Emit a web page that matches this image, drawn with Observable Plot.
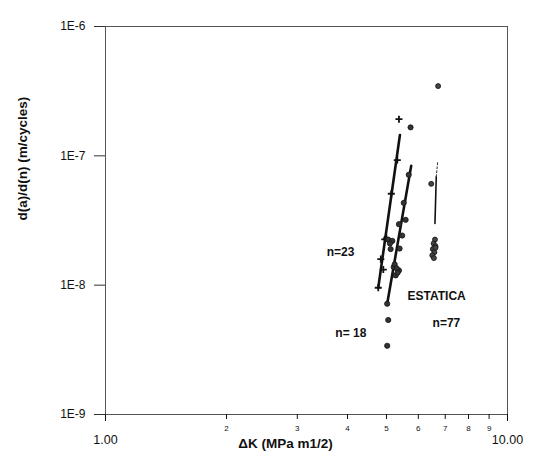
<!DOCTYPE html>
<html>
<head>
<meta charset="utf-8">
<script src="https://cdn.jsdelivr.net/npm/d3@7"></script>
<script src="https://cdn.jsdelivr.net/npm/@observablehq/plot@0.6"></script>
<style>
  body { margin: 0; background: #fff; }
  #chart svg { display: block; }
</style>
</head>
<body>
<div id="chart"></div>
<script>
// Series A (n=23, plus markers)
const aX = [5.37, 5.32, 5.14, 4.95, 4.84, 4.91, 4.77, 5.00];
const aY = [1.92e-7, 9.27e-8, 5.09e-8, 2.26e-8, 1.59e-8, 1.32e-8, 9.55e-9, 2.3e-8];
// Series B (n=18, circle markers)
const bX = [5.74, 5.68, 5.52, 5.58, 5.37, 5.47, 5.39, 5.21, 5.37, 5.27, 5.02, 5.12, 5.05, 5.02, 5.05, 5.17, 5.10, 5.24, 5.30, 5.33];
const bY = [1.66e-7, 7.14e-8, 4.33e-8, 3.20e-8, 2.96e-8, 2.42e-8, 1.92e-8, 1.38e-8, 1.30e-8, 1.19e-8, 7.18e-9, 1.90e-8, 5.38e-9, 3.40e-9, 2.25e-8, 2.20e-8, 2.10e-8, 1.45e-8, 1.35e-8, 1.25e-8];
// Series C (ESTATICA, n=77)
const cX = [6.72, 6.46, 6.60, 6.55, 6.62, 6.52, 6.58, 6.50, 6.56, 6.62];
const cY = [3.46e-7, 6.07e-8, 2.25e-8, 2.10e-8, 2.00e-8, 1.90e-8, 1.80e-8, 1.70e-8, 1.62e-8, 1.95e-8];
// Fitted lines (end points)
const fitAX = [4.77, 5.40], fitAY = [9.55e-9, 1.45e-7];
const fitBX = [5.02, 5.76], fitBY = [7.18e-9, 8.36e-8];
const fitCX = [6.60, 6.65], fitCY = [3.0e-8, 6.9e-8];
const fitCdX = [6.65, 6.70], fitCdY = [6.9e-8, 8.85e-8];
// Annotations
const labels = ["n=23", "ESTATICA", "n=77", "n= 18"];
const labelX = [3.55, 5.64, 6.51, 3.73];
const labelY = [1.81e-8, 8.28e-9, 5.12e-9, 4.23e-9];
// Ticks
const yTicks = [1e-9, 1e-8, 1e-7, 1e-6];
const yTickLabels = ["1E-9", "1E-8", "1E-7", "1E-6"];
const xMajor = [1, 10];
const xMajorLabels = ["1.00", "10.00"];
const xMinor = [2, 3, 4, 5, 6, 7, 8, 9];

const pts = (xs, ys) => xs.map((x, i) => ({x, y: ys[i]}));
const lab = labels.map((t, i) => ({t, x: labelX[i], y: labelY[i]}));

const plot = Plot.plot({
  width: 535,
  height: 460,
  marginLeft: 105,
  marginRight: 28,
  marginTop: 26,
  marginBottom: 46,
  style: {fontFamily: "Liberation Sans, Arial, sans-serif", background: "#fff", color: "#111"},
  x: {type: "log", domain: [1, 10]},
  y: {type: "log", domain: [1e-9, 1e-6]},
  marks: [
    Plot.frame({stroke: "#555", strokeWidth: 1}),
    Plot.axisY({ticks: yTicks, tickFormat: (d) => yTickLabels[yTicks.indexOf(d)], tickSize: 11, tickPadding: 9, fontSize: 12, label: null, stroke: "#333"}),
    Plot.axisX({ticks: xMajor, tickFormat: (d) => xMajorLabels[xMajor.indexOf(d)], tickSize: 7, tickPadding: 14, fontSize: 12.5, label: null}),
    Plot.axisX({ticks: xMinor, tickFormat: (d) => String(d), tickSize: 5, tickPadding: 6, fontSize: 8, label: null}),
    Plot.text(["d(a)/d(n) (m/cycles)"], {frameAnchor: "left", rotate: -90, dx: -83, fontSize: 13.5, fontWeight: "bold", fill: "#111"}),
    Plot.text(["\u0394K (MPa m1/2)"], {frameAnchor: "bottom", dx: -21, dy: 33, fontSize: 13.5, fontWeight: "bold", fill: "#111"}),
    Plot.line(pts(fitAX, fitAY), {x: "x", y: "y", stroke: "#111", strokeWidth: 2.6}),
    Plot.line(pts(fitBX, fitBY), {x: "x", y: "y", stroke: "#111", strokeWidth: 2.6}),
    Plot.line(pts(fitCX, fitCY), {x: "x", y: "y", stroke: "#111", strokeWidth: 1.6}),
    Plot.line(pts(fitCdX, fitCdY), {x: "x", y: "y", stroke: "#333", strokeWidth: 1, strokeDasharray: "2,2"}),
    Plot.dot(pts(aX, aY), {x: "x", y: "y", symbol: "plus", r: 2.4, stroke: "#111", strokeWidth: 1.8}),
    Plot.dot(pts(bX, bY), {x: "x", y: "y", r: 2.6, fill: "#333", stroke: "#111", strokeWidth: 0.8}),
    Plot.dot(pts(cX, cY), {x: "x", y: "y", r: 2.5, fill: "#444", stroke: "#111", strokeWidth: 0.8}),
    Plot.text(lab, {x: "x", y: "y", text: "t", textAnchor: "start", fontSize: 12, fontWeight: "bold", fill: "#111"})
  ]
});
document.getElementById("chart").appendChild(plot);
</script>
</body>
</html>
